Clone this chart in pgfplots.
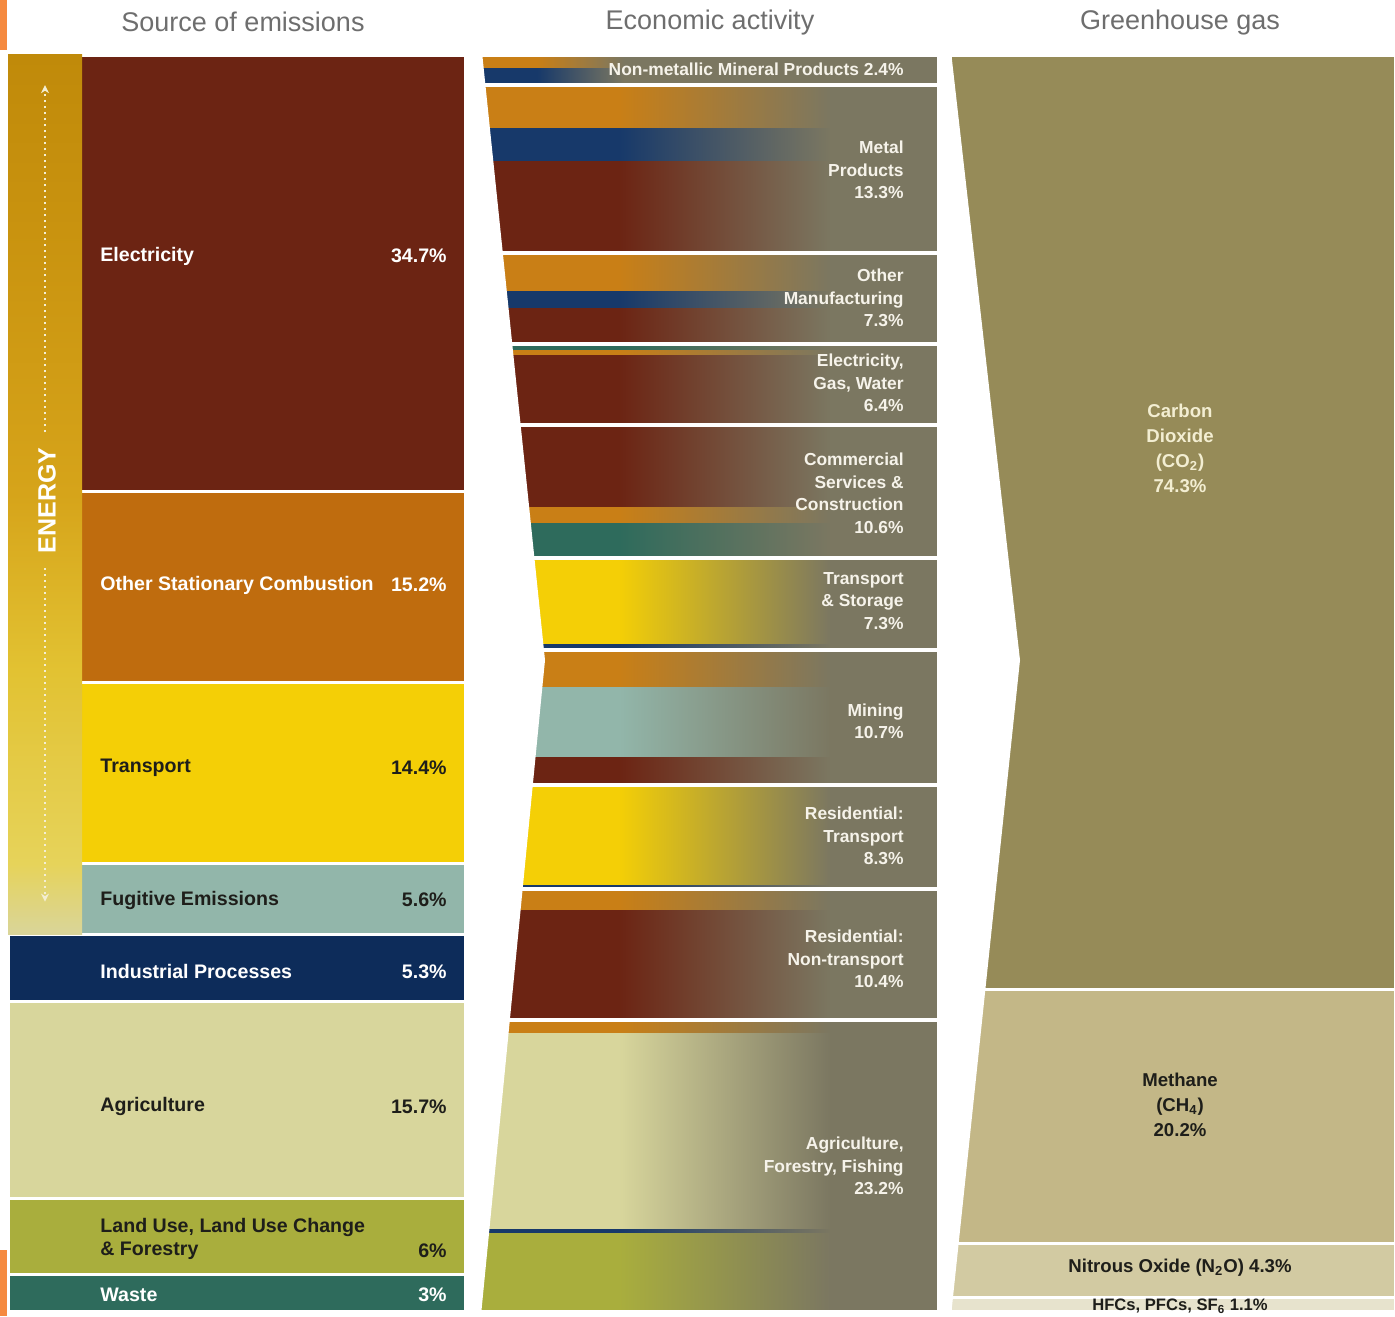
\documentclass[border=0pt]{standalone}
\usepackage{pgfplots}
\pgfplotsset{compat=1.18}
\usetikzlibrary{arrows.meta}
\usepackage{fontspec}
\setmainfont{Liberation Sans}

\definecolor{cElec}{HTML}{6C2413}
\definecolor{cOSC}{HTML}{BF6C0E}
\definecolor{cOr}{HTML}{C97F16}
\definecolor{cTrans}{HTML}{F4CF06}
\definecolor{cFug}{HTML}{92B6AA}
\definecolor{cInd}{HTML}{0D2C5A}
\definecolor{cNavy}{HTML}{17396A}
\definecolor{cAgri}{HTML}{D8D69C}
\definecolor{cLulu}{HTML}{A9AE3D}
\definecolor{cWaste}{HTML}{2E6B5C}
\definecolor{cGrey}{HTML}{7B7761}
\definecolor{cCO2}{HTML}{968B58}
\definecolor{cCH4}{HTML}{C3B787}
\definecolor{cN2O}{HTML}{D2CAA2}
\definecolor{cHFC}{HTML}{E7E3CD}
\definecolor{cTitle}{HTML}{6E6E6E}
\definecolor{cDark}{HTML}{1E1E1A}
\definecolor{cMid}{HTML}{F6F3EA}
\definecolor{cCream}{HTML}{F3EED2}
\definecolor{en0}{HTML}{D9D59A}
\definecolor{en1}{HTML}{E6D35A}
\definecolor{en2}{HTML}{E2C232}
\definecolor{en3}{HTML}{D6A41A}
\definecolor{en4}{HTML}{C9930F}
\definecolor{en5}{HTML}{C08A0A}
\definecolor{cEdge}{HTML}{F58A40}

% TikZ shows the band 25bp--75bp of a 100bp shading
\newcommand\mkfade[1]{\pgfdeclarehorizontalshading{fade#1}{100bp}{color(0bp)=(#1); color(44bp)=(#1); color(73bp)=(cGrey); color(100bp)=(cGrey)}}
\mkfade{cElec}\mkfade{cOr}\mkfade{cTrans}\mkfade{cFug}\mkfade{cNavy}\mkfade{cAgri}\mkfade{cLulu}\mkfade{cWaste}
\pgfdeclareverticalshading{energy}{100bp}{color(0bp)=(en0); color(25bp)=(en0); color(29bp)=(en1); color(40bp)=(en2); color(50bp)=(en3); color(65bp)=(en4); color(75bp)=(en5); color(100bp)=(en5)}

\tikzset{fd/.style={draw=none, shading=fade#1, shade},
  lbl/.style={font=\bfseries\fontsize{9.8}{11.6}\selectfont, inner sep=0pt, align=left},
  mlbl/.style={font=\bfseries\fontsize{8.7}{11.25}\selectfont, inner sep=0pt, text=cMid, align=right, anchor=east},
  rlbl/.style={font=\bfseries\fontsize{9.3}{12.5}\selectfont, inner sep=0pt, align=center},
  ttl/.style={font=\fontsize{13.5}{15}\selectfont, text=cTitle, inner sep=0pt}}

\pgfplotsset{base/.style={at={(0pt,0pt)}, anchor=south west, width=697.5pt, height=658pt,
    scale only axis, xmin=0, xmax=1395, ymin=-4.372, ymax=100.24, y dir=reverse,
    axis lines=none, clip=false},
  stk/.style={base, ybar stacked, bar width=#1}}

\begin{document}
\begin{tikzpicture}
% ---------- Source of emissions ----------
\begin{axis}[stk=457]
\addplot[fill=cElec, draw=white, line width=1.5pt] coordinates {(236.5,34.7)};
\addplot[fill=cOSC, draw=white, line width=1.5pt] coordinates {(236.5,15.2)};
\addplot[fill=cTrans, draw=white, line width=1.5pt] coordinates {(236.5,14.4)};
\addplot[fill=cFug, draw=white, line width=1.5pt] coordinates {(236.5,5.6)};
\addplot[fill=cInd, draw=white, line width=1.5pt] coordinates {(236.5,5.3)};
\addplot[fill=cAgri, draw=white, line width=1.5pt] coordinates {(236.5,15.7)};
\addplot[fill=cLulu, draw=white, line width=1.5pt] coordinates {(236.5,6)};
\addplot[fill=cWaste, draw=white, line width=1.5pt] coordinates {(236.5,3)};
\end{axis}
% energy band (Electricity + Other Stationary + Transport + Fugitive = 69.9)
\begin{axis}[stk=74]
\addplot[draw=none, shading=energy, shade] coordinates {(45,69.9)};
\end{axis}
% ---------- Economic activity: grey backgrounds ----------
\begin{axis}[stk=457]
\addplot[fill=cGrey, draw=none] coordinates {(708.5,2.4)};
\addplot[fill=cGrey, draw=none] coordinates {(708.5,13.3)};
\addplot[fill=cGrey, draw=none] coordinates {(708.5,7.3)};
\addplot[fill=cGrey, draw=none] coordinates {(708.5,6.4)};
\addplot[fill=cGrey, draw=none] coordinates {(708.5,10.6)};
\addplot[fill=cGrey, draw=none] coordinates {(708.5,7.3)};
\addplot[fill=cGrey, draw=none] coordinates {(708.5,10.7)};
\addplot[fill=cGrey, draw=none] coordinates {(708.5,8.3)};
\addplot[fill=cGrey, draw=none] coordinates {(708.5,10.4)};
\addplot[fill=cGrey, draw=none] coordinates {(708.5,23.2)};
\end{axis}
% stripes: share of each source inside each activity
\begin{axis}[stk=365]
\addplot[draw=none, fill=none] coordinates {(662.5,2.4)};
% Metal products 13.3
\addplot[fd=cOr] coordinates {(662.5,3.4)};
\addplot[fd=cNavy] coordinates {(662.5,2.6)};
\addplot[fd=cElec] coordinates {(662.5,7.3)};
% Other manufacturing 7.3
\addplot[fd=cOr] coordinates {(662.5,3.0)};
\addplot[fd=cNavy] coordinates {(662.5,1.4)};
\addplot[fd=cElec] coordinates {(662.5,2.9)};
% Electricity, gas, water 6.4
\addplot[fd=cWaste] coordinates {(662.5,0.4)};
\addplot[fd=cOr] coordinates {(662.5,0.4)};
\addplot[fd=cElec] coordinates {(662.5,5.6)};
% Commercial services 10.6
\addplot[fd=cElec] coordinates {(662.5,6.5)};
\addplot[fd=cOr] coordinates {(662.5,1.3)};
\addplot[fd=cWaste] coordinates {(662.5,2.8)};
% Transport & storage 7.3
\addplot[fd=cTrans] coordinates {(662.5,6.8)};
\addplot[fd=cNavy] coordinates {(662.5,0.5)};
% Mining 10.7
\addplot[fd=cOr] coordinates {(662.5,2.9)};
\addplot[fd=cFug] coordinates {(662.5,5.6)};
\addplot[fd=cElec] coordinates {(662.5,2.2)};
% Residential transport 8.3
\addplot[fd=cTrans] coordinates {(662.5,7.9)};
\addplot[fd=cNavy] coordinates {(662.5,0.4)};
% Residential non-transport 10.4
\addplot[fd=cOr] coordinates {(662.5,1.6)};
\addplot[fd=cElec] coordinates {(662.5,8.8)};
% Agriculture, forestry, fishing 23.2
\addplot[fd=cOr] coordinates {(662.5,1.0)};
\addplot[fd=cAgri] coordinates {(662.5,15.6)};
\addplot[fd=cNavy] coordinates {(662.5,0.3)};
\addplot[fd=cLulu] coordinates {(662.5,6.3)};
\end{axis}
% Non-metallic mineral products 2.4 (short stripes)
\begin{axis}[stk=150]
\addplot[fd=cOr] coordinates {(555,1.0)};
\addplot[fd=cNavy] coordinates {(555,1.4)};
\end{axis}
% separators
\begin{axis}[stk=465]
\addplot[fill=none, draw=white, line width=2pt] coordinates {(708.5,2.4)};
\addplot[fill=none, draw=white, line width=2pt] coordinates {(708.5,13.3)};
\addplot[fill=none, draw=white, line width=2pt] coordinates {(708.5,7.3)};
\addplot[fill=none, draw=white, line width=2pt] coordinates {(708.5,6.4)};
\addplot[fill=none, draw=white, line width=2pt] coordinates {(708.5,10.6)};
\addplot[fill=none, draw=white, line width=2pt] coordinates {(708.5,7.3)};
\addplot[fill=none, draw=white, line width=2pt] coordinates {(708.5,10.7)};
\addplot[fill=none, draw=white, line width=2pt] coordinates {(708.5,8.3)};
\addplot[fill=none, draw=white, line width=2pt] coordinates {(708.5,10.4)};
\addplot[fill=none, draw=white, line width=2pt] coordinates {(708.5,23.2)};
\end{axis}
% ---------- Greenhouse gas ----------
\begin{axis}[stk=445]
\addplot[fill=cCO2, draw=white, line width=1.5pt] coordinates {(1172.5,74.3)};
\addplot[fill=cCH4, draw=white, line width=1.5pt] coordinates {(1172.5,20.2)};
\addplot[fill=cN2O, draw=white, line width=1.5pt] coordinates {(1172.5,4.3)};
\addplot[fill=cHFC, draw=white, line width=1.5pt] coordinates {(1172.5,1.1)};
\end{axis}
% ---------- chevrons, labels ----------
\begin{axis}[base]
\addplot[fill=white, draw=none, mark=none] coordinates {(468,-1) (481,-1) (545,48.1) (480,101) (468,101)};
\addplot[fill=white, draw=none, mark=none] coordinates {(939,-1) (950,-1) (1020,48.1) (950,101) (939,101)};
% page-edge fragments
\fill[cEdge] (axis cs:0,-4.372) rectangle (axis cs:7,-0.4);
\fill[cEdge] (axis cs:0,95) rectangle (axis cs:7,100.24);
% titles
\node[ttl] at (axis cs:243,-2.62) {Source of emissions};
\node[ttl] at (axis cs:710,-2.62) {Economic activity};
\node[ttl] at (axis cs:1180,-2.62) {Greenhouse gas};
% energy band
\draw[cCream, line width=1pt, dash pattern=on 1pt off 2pt, -{Stealth[length=4pt,width=4pt]}] (axis cs:45,30.0) -- (axis cs:45,2.4);
\draw[cCream, line width=1pt, dash pattern=on 1pt off 2pt, -{Stealth[length=4pt,width=4pt]}] (axis cs:45,40.8) -- (axis cs:45,67.3);
\node[rotate=90, text=white, font=\bfseries\fontsize{12.5}{13}\selectfont, inner sep=0pt] at (axis cs:47,35.4) {ENERGY};
% source labels
\node[lbl, text=white, anchor=west] at (axis cs:100,15.98) {Electricity};
\node[lbl, text=white, anchor=east] at (axis cs:447,15.98) {34.7\%};
\node[lbl, text=white, anchor=west] at (axis cs:100,42.13) {Other Stationary Combustion};
\node[lbl, text=white, anchor=east] at (axis cs:447,42.13) {15.2\%};
\node[lbl, text=cDark, anchor=west] at (axis cs:100,56.68) {Transport};
\node[lbl, text=cDark, anchor=east] at (axis cs:447,56.68) {14.4\%};
\node[lbl, text=cDark, anchor=west] at (axis cs:100,67.17) {Fugitive Emissions};
\node[lbl, text=cDark, anchor=east] at (axis cs:447,67.17) {5.6\%};
\node[lbl, text=white, anchor=west] at (axis cs:100,72.89) {Industrial Processes};
\node[lbl, text=white, anchor=east] at (axis cs:447,72.89) {5.3\%};
\node[lbl, text=cDark, anchor=west] at (axis cs:100,83.62) {Agriculture};
\node[lbl, text=cDark, anchor=east] at (axis cs:447,83.62) {15.7\%};
\node[lbl, text=cDark, anchor=west] at (axis cs:100,94.12) {Land Use, Land Use Change\\\& Forestry};
\node[lbl, text=cDark, anchor=east] at (axis cs:447,95.07) {6\%};
\node[lbl, text=white, anchor=west] at (axis cs:100,98.57) {Waste};
\node[lbl, text=white, anchor=east] at (axis cs:447,98.57) {3\%};
% activity labels
\node[mlbl] at (axis cs:904,1.11) {Non-metallic Mineral Products 2.4\%};
\node[mlbl] at (axis cs:904,9.14) {Metal\\Products\\13.3\%};
\node[mlbl] at (axis cs:904,19.32) {Other\\Manufacturing\\7.3\%};
\node[mlbl] at (axis cs:904,26.07) {Electricity,\\Gas, Water\\6.4\%};
\node[mlbl] at (axis cs:904,34.82) {Commercial\\Services \&\\Construction\\10.6\%};
\node[mlbl] at (axis cs:904,43.40) {Transport\\\& Storage\\7.3\%};
\node[mlbl] at (axis cs:904,52.98) {Mining\\10.7\%};
\node[mlbl] at (axis cs:904,62.08) {Residential:\\Transport\\8.3\%};
\node[mlbl] at (axis cs:904,71.86) {Residential:\\Non-transport\\10.4\%};
\node[mlbl] at (axis cs:904,88.31) {Agriculture,\\Forestry, Fishing\\23.2\%};
% gas labels
\node[rlbl, text=cCream] at (axis cs:1180,31.24) {Carbon\\Dioxide\\(CO\textsubscript{2})\\74.3\%};
\node[rlbl, text=cDark] at (axis cs:1180,83.47) {Methane\\(CH\textsubscript{4})\\20.2\%};
\node[rlbl, text=cDark] at (axis cs:1180,96.42) {Nitrous Oxide (N\textsubscript{2}O) 4.3\%};
\node[rlbl, text=cDark, font=\bfseries\fontsize{8.3}{10}\selectfont] at (axis cs:1180,99.45) {HFCs, PFCs, SF\textsubscript{6} 1.1\%};
\end{axis}
\pgfresetboundingbox
\useasboundingbox (0pt,0pt) rectangle (697.5pt,658pt);
\end{tikzpicture}
\end{document}
